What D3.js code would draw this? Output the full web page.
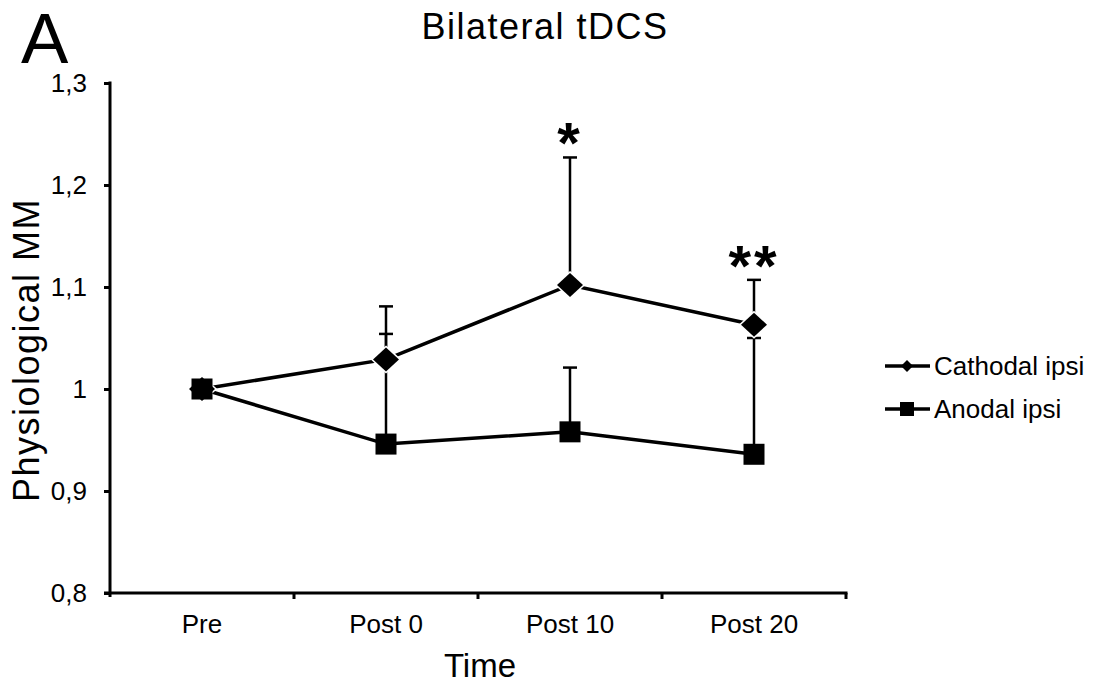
<!DOCTYPE html>
<html>
<head>
<meta charset="utf-8">
<script src="https://cdn.jsdelivr.net/npm/d3@7"></script>
<style>
  html, body { margin: 0; padding: 0; background: #fff; }
  svg { display: block; font-family: "Liberation Sans", Arial, sans-serif; }
</style>
</head>
<body>
<svg id="chart" width="1095" height="689"></svg>
<script>
// Time points and per-condition means with upper error bars
const timepoints = ["Pre", "Post 0", "Post 10", "Post 20"];
const cathodalMean = [1.000, 1.029, 1.102, 1.063];
const cathodalErr  = [0.000, 0.052, 0.125, 0.044];
const anodalMean   = [1.000, 0.946, 0.958, 0.936];
const anodalErr    = [0.000, 0.108, 0.063, 0.114];
const yTicks = [0.8, 0.9, 1.0, 1.1, 1.2, 1.3];
const significance = ["", "", "*", "**"];
const seriesNames = ["Cathodal ipsi", "Anodal ipsi"];

const svg = d3.select("#chart");
const ink = "#000";

const x = d3.scaleBand().domain(timepoints).range([110, 846]).padding(0);
const y = d3.scaleLinear().domain([0.8, 1.3]).range([593, 83]);
const cx = d => x(d) + x.bandwidth() / 2;

// Y axis
const yAxis = d3.axisLeft(y)
  .tickValues(yTicks)
  .tickSize(6)
  .tickSizeOuter(0)
  .tickPadding(17)
  .tickFormat(v => (Math.round(v * 10) / 10).toString().replace(".", ","));
const gy = svg.append("g").attr("transform", "translate(110,0)").call(yAxis);
gy.select(".domain").remove();
gy.selectAll(".tick line").attr("stroke", ink).attr("stroke-width", 3);
gy.selectAll(".tick text").attr("fill", ink).style("font-size", "26px")
  .style("font-family", "Liberation Sans, Arial, sans-serif");
gy.append("line").attr("x1", 0).attr("x2", 0).attr("y1", y(1.3) - 1.5).attr("y2", y(0.8) + 4)
  .attr("stroke", ink).attr("stroke-width", 3);

// X axis: labels at band centres, tick marks at band boundaries
const xAxis = d3.axisBottom(x).tickSize(0).tickPadding(22).tickSizeOuter(0);
const gx = svg.append("g").attr("transform", `translate(0,${y(0.8)})`).call(xAxis);
gx.select(".domain").remove();
gx.selectAll(".tick text").attr("fill", ink).style("font-size", "26px")
  .style("font-family", "Liberation Sans, Arial, sans-serif");
gx.append("line").attr("x1", 104).attr("x2", x.range()[1] + 1.5).attr("y1", 0).attr("y2", 0)
  .attr("stroke", ink).attr("stroke-width", 3);
const bounds = timepoints.map(d => x(d)).concat([x.range()[1]]);
gx.selectAll("line.bound").data(bounds.slice(1)).join("line")
  .attr("class", "bound")
  .attr("x1", d => d).attr("x2", d => d).attr("y1", 0).attr("y2", 6)
  .attr("stroke", ink).attr("stroke-width", 3);

// Titles
svg.append("text").attr("x", 545).attr("y", 39).attr("text-anchor", "middle")
  .style("font-size", "36px").style("letter-spacing", "1.5px").attr("fill", ink).text("Bilateral tDCS");
svg.append("text").attr("x", 21).attr("y", 63)
  .style("font-size", "71px").attr("fill", ink).text("A");
svg.append("text").attr("transform", `translate(39,350) rotate(-90)`)
  .attr("text-anchor", "middle").style("font-size", "36px").style("letter-spacing", "1.5px")
  .attr("fill", ink).text("Physiological MM");
svg.append("text").attr("x", (x.range()[0] + x.range()[1]) / 2 + 2).attr("y", 677).attr("text-anchor", "middle")
  .style("font-size", "33px").attr("fill", ink).text("Time");

// Series data
const cath = timepoints.map((t, i) => ({ t, v: cathodalMean[i], e: cathodalErr[i], s: significance[i] }));
const anod = timepoints.map((t, i) => ({ t, v: anodalMean[i], e: anodalErr[i] }));

const line = d3.line().x(d => cx(d.t)).y(d => y(d.v));
const plot = svg.append("g");

plot.append("path").datum(anod).attr("d", line).attr("fill", "none")
  .attr("stroke", ink).attr("stroke-width", 3.5);
plot.append("path").datum(cath).attr("d", line).attr("fill", "none")
  .attr("stroke", ink).attr("stroke-width", 3.5);

// Upper error bars
function errorBars(data) {
  const g = plot.append("g");
  const d = data.filter(p => p.e > 0);
  g.selectAll("line.stem").data(d).join("line").attr("class", "stem")
    .attr("x1", p => cx(p.t)).attr("x2", p => cx(p.t))
    .attr("y1", p => y(p.v)).attr("y2", p => y(p.v + p.e))
    .attr("stroke", ink).attr("stroke-width", 2.5);
  g.selectAll("line.cap").data(d).join("line").attr("class", "cap")
    .attr("x1", p => cx(p.t) - 7).attr("x2", p => cx(p.t) + 7)
    .attr("y1", p => y(p.v + p.e)).attr("y2", p => y(p.v + p.e))
    .attr("stroke", ink).attr("stroke-width", 2.5);
}
errorBars(anod);
errorBars(cath);

// Markers
const diamond = (r, ry) => `M0,${-ry}L${r},0L0,${ry}L${-r},0Z`;
plot.selectAll("path.diamond").data(cath).join("path").attr("class", "diamond")
  .attr("transform", p => `translate(${cx(p.t)},${y(p.v)})`)
  .attr("d", diamond(13, 12)).attr("fill", ink)
  .attr("stroke", "#fff").attr("stroke-width", 3).attr("paint-order", "stroke");
plot.selectAll("rect.square").data(anod).join("rect").attr("class", "square")
  .attr("x", p => cx(p.t) - 10.5).attr("y", p => y(p.v) - 10.5)
  .attr("width", 21).attr("height", 21).attr("fill", ink);

// Significance markers above the cathodal error bars
plot.selectAll("text.sig").data(cath.filter(p => p.s)).join("text").attr("class", "sig")
  .attr("x", p => cx(p.t)).attr("y", p => y(p.v + p.e) + 6)
  .attr("text-anchor", "middle").style("font-size", "58px").style("font-weight", "bold")
  .style("letter-spacing", "3px")
  .attr("fill", ink).text(p => p.s);

// Legend
const legend = svg.append("g").attr("transform", "translate(885,0)");
const legendRows = [
  { name: seriesNames[0], y: 366, shape: "diamond" },
  { name: seriesNames[1], y: 409, shape: "square" }
];
legendRows.forEach(r => {
  legend.append("line").attr("x1", 0).attr("x2", 45).attr("y1", r.y).attr("y2", r.y)
    .attr("stroke", ink).attr("stroke-width", 3.5);
  if (r.shape === "diamond") {
    legend.append("path").attr("transform", `translate(22,${r.y})`).attr("d", diamond(6, 6)).attr("fill", ink);
  } else {
    legend.append("rect").attr("x", 22 - 7).attr("y", r.y - 7).attr("width", 14).attr("height", 14).attr("fill", ink);
  }
  legend.append("text").attr("x", 49).attr("y", r.y + 9).style("font-size", "26px")
    .attr("fill", ink).text(r.name);
});
</script>
</body>
</html>
